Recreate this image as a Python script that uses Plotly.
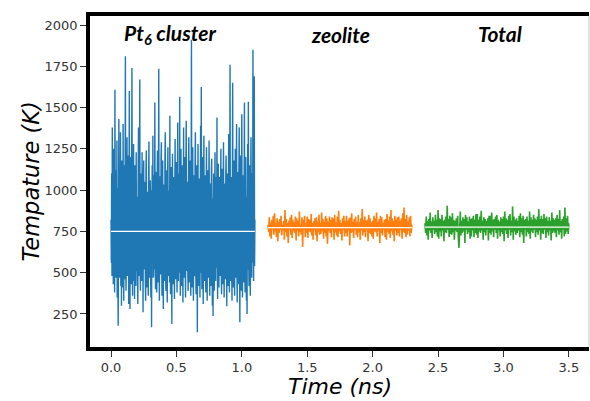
import numpy as np
import plotly.graph_objects as go

# ---- data (temperature in K) ----
pt6_start, pt6_end = 0.0, 1.1
zeo_start, zeo_end = 1.2, 2.3
tot_start, tot_end = 2.4, 3.5

pt6_temp = [
    820, 560, 1100, 480, 1380, 620, 950, 430, 1250, 520, 1040, 380, 1608, 600, 900, 470, 1120, 540, 1300, 350,
    1010, 500, 178, 880, 1430, 610, 470, 1040, 560, 1350, 420, 930, 300, 1180, 640, 980, 410, 1400, 520, 330,
    1150, 590, 460, 1020, 1810, 540, 390, 1090, 660, 1320, 480, 960, 540, 1210, 310, 870, 1600, 500, 280, 1060,
    1200, 560, 430, 990, 1740, 620, 360, 1010, 500, 1280, 450, 920, 340, 1150, 600, 1060, 420, 1230, 510, 880,
    960, 470, 310, 1080, 1380, 580, 480, 940, 1670, 530, 390, 1100, 610, 1020, 450, 1230, 500, 900, 260, 1050,
    1180, 560, 520, 990, 1050, 430, 330, 1120, 1240, 600, 410, 970, 990, 480, 360, 1060, 1295, 540, 470, 930,
    1060, 500, 350, 1000, 170, 880, 1150, 590, 1330, 470, 480, 1090, 1020, 520, 1530, 610, 400, 980, 1110, 450,
    380, 1020, 1240, 540, 440, 960, 1735, 600, 330, 1080, 1080, 490, 500, 1190, 1290, 560, 360, 940, 1180, 510,
    280, 1030, 1030, 570, 450, 1200, 1350, 480, 390, 990, 1120, 620, 320, 1060, 1260, 530, 480, 910, 1000, 440,
    1450, 560, 370, 1010, 1140, 600, 190, 880, 1220, 510, 430, 1070, 1080, 580, 340, 960, 1310, 490, 460, 1040,
    1170, 550, 380, 990, 1410, 620, 450, 1100, 1090, 500, 1565, 580, 360, 1010, 1250, 470, 420, 1150, 1130, 540,
    320, 980, 1380, 590, 470, 1060, 1200, 520, 350, 1120, 1420, 610, 510, 940, 1050, 480, 390, 1170, 1320, 560,
    440, 1030, 1180, 600, 360, 990, 1910, 520, 410, 1100, 1260, 580, 330, 960, 1090, 490, 480, 1140, 1350, 550,
    370, 1010, 1150, 600, 140, 900, 1280, 530, 420, 1070, 1030, 590, 350, 980, 1390, 500, 1625, 620, 400, 1050,
    1200, 560, 310, 990, 1330, 610, 450, 1090, 1070, 520, 380, 1030, 1260, 580, 330, 960, 1120, 500, 470, 1040,
    1300, 570, 360, 1000, 1040, 600, 420, 1130, 1190, 510, 300, 950, 237, 880, 1100, 560, 390, 1010, 1230, 600,
    450, 1050, 1080, 530, 1440, 590, 340, 970, 1160, 500, 410, 1080, 1020, 620, 480, 1000, 1250, 550, 370, 1060,
    1130, 580, 430, 990, 1290, 600, 350, 1040, 990, 520, 460, 1110, 1210, 570, 297, 920, 1100, 530, 420, 1020,
    1340, 560, 380, 1000, 1760, 610, 450, 1080, 1070, 500, 330, 990, 1650, 580, 410, 1050, 1180, 540, 360, 1010,
    1250, 590, 470, 1030, 1400, 520, 320, 970, 1110, 600, 430, 1120, 1380, 560, 200, 940, 1210, 510, 390, 1060,
    1460, 570, 350, 1010, 1090, 620, 440, 990, 1530, 540, 380, 1070, 1200, 590, 330, 960, 250, 880, 1280, 520,
    1535, 600, 420, 1040, 1150, 550, 360, 1000, 1320, 580, 470, 1100, 1100, 560, 1850, 620, 450, 1010, 1690, 540,
    820,
]

zeo_temp = [
    790, 745, 835, 720, 805, 705, 820, 760, 845, 730, 860, 750, 800, 715, 830, 690, 810, 740, 825, 760,
    845, 725, 790, 755, 815, 700, 880, 745, 825, 720, 800, 680, 815, 760, 835, 730, 850, 710, 820, 750,
    805, 740, 840, 695, 830, 755, 815, 720, 870, 745, 790, 730, 835, 655, 820, 760, 845, 715, 800, 740,
    840, 710, 825, 750, 820, 745, 855, 725, 800, 700, 815, 760, 830, 725, 835, 690, 810, 745, 850, 730,
    800, 735, 865, 750, 825, 705, 810, 740, 845, 720, 830, 675, 810, 755, 840, 740, 820, 715, 835, 760,
    830, 700, 850, 745, 805, 725, 840, 715, 875, 750, 820, 735, 800, 695, 830, 760, 845, 720, 815, 740,
    845, 720, 815, 755, 830, 665, 835, 740, 860, 745, 810, 710, 825, 760, 840, 730, 805, 715, 850, 745,
    805, 700, 830, 755, 885, 725, 820, 745, 840, 715, 815, 760, 820, 690, 850, 740, 830, 735, 805, 720,
    815, 705, 845, 750, 830, 745, 865, 720, 810, 755, 825, 680, 845, 740, 835, 725, 800, 760, 820, 715,
    825, 700, 855, 745, 815, 735, 840, 710, 880, 750, 830, 730, 815, 690, 845, 755, 820, 725, 835, 740,
    840, 720, 815, 760, 830, 705, 860, 745, 895, 740, 825, 715, 850, 730, 810, 755, 835, 720, 845, 740,
    790,
]

tot_temp = [
    800, 740, 840, 725, 815, 700, 825, 755, 865, 740, 810, 710, 835, 760, 815, 735, 850, 745, 820, 720,
    880, 705, 830, 750, 825, 720, 850, 755, 815, 690, 820, 745, 840, 740, 905, 760, 825, 715, 845, 735,
    835, 730, 860, 745, 820, 700, 815, 755, 830, 745, 845, 715, 650, 760, 870, 725, 815, 740, 835, 750,
    825, 680, 850, 760, 835, 735, 810, 745, 840, 705, 825, 720, 830, 755, 845, 715, 820, 740, 855, 730,
    855, 710, 820, 750, 840, 740, 875, 755, 815, 700, 835, 745, 825, 725, 815, 760, 830, 695, 845, 740,
    845, 730, 865, 750, 820, 715, 825, 760, 840, 740, 850, 705, 820, 755, 810, 720, 835, 745, 825, 735,
    840, 690, 870, 755, 830, 735, 820, 710, 845, 760, 855, 725, 815, 745, 900, 700, 840, 750, 820, 730,
    830, 740, 815, 755, 845, 715, 860, 745, 830, 730, 845, 680, 820, 760, 825, 720, 840, 745, 815, 735,
    870, 705, 835, 750, 820, 740, 850, 760, 830, 715, 820, 745, 840, 730, 885, 755, 825, 700, 845, 740,
    825, 735, 855, 760, 830, 710, 840, 745, 815, 725, 835, 755, 815, 695, 865, 740, 830, 750, 820, 740,
    830, 715, 850, 755, 825, 730, 880, 745, 815, 705, 825, 760, 840, 720, 895, 735, 830, 750, 845, 735,
    800,
]

pt6_mean = 750
zeo_mean = 773
tot_mean = 776

labels = ["Pt<sub>6</sub> cluster", "zeolite", "Total"]
label_x = [0.451, 1.755, 2.974]
label_y = [1945, 1945, 1950]

x_ticks = [0.0, 0.5, 1.0, 1.5, 2.0, 2.5, 3.0, 3.5]
y_ticks = [250, 500, 750, 1000, 1250, 1500, 1750, 2000]

colors = ["#1f77b4", "#ff7f0e", "#2ca02c"]

pt6_time = np.linspace(pt6_start, pt6_end, len(pt6_temp))
zeo_time = np.linspace(zeo_start, zeo_end, len(zeo_temp))
tot_time = np.linspace(tot_start, tot_end, len(tot_temp))

fig = go.Figure()
series = [
    (pt6_time, pt6_temp, pt6_mean, (pt6_start, pt6_end), 1.4),
    (zeo_time, zeo_temp, zeo_mean, (zeo_start, zeo_end), 1.6),
    (tot_time, tot_temp, tot_mean, (tot_start, tot_end), 1.6),
]
for (t, v, m, (a, b), w), c in zip(series, colors):
    fig.add_trace(go.Scatter(x=t, y=v, mode="lines",
                             line=dict(color=c, width=w, simplify=False),
                             hoverinfo="skip", showlegend=False))
for (t, v, m, (a, b), w), c in zip(series, colors):
    fig.add_trace(go.Scatter(x=[a, b], y=[m, m], mode="lines",
                             line=dict(color="white", width=1.3),
                             hoverinfo="skip", showlegend=False))

for txt, xx, yy in zip(labels, label_x, label_y):
    fig.add_annotation(x=xx, y=yy, text="<b><i>" + txt + "</i></b>",
                       showarrow=False, xanchor="center", yanchor="middle",
                       font=dict(family="Lato", size=21, color="black"))

fig.add_annotation(xref="paper", yref="paper", x=0.502, y=0, yshift=-39,
                   text="<i>Time (ns)</i>", showarrow=False,
                   xanchor="center", yanchor="middle",
                   font=dict(family="DejaVu Sans", size=22, color="black"))
fig.add_annotation(xref="paper", yref="paper", x=-0.12, y=0.5,
                   text="<i>Tempature (K)</i>", showarrow=False, textangle=-90,
                   xanchor="center", yanchor="middle",
                   font=dict(family="DejaVu Sans", size=22.5, color="black"))

fig.add_shape(type="line", xref="paper", yref="paper", x0=1, x1=1, y0=0, y1=1,
              line=dict(color="#c8c8c8", width=1))

fig.update_layout(
    width=590, height=401,
    margin=dict(l=90, r=1, t=16, b=54),
    paper_bgcolor="white", plot_bgcolor="white",
    xaxis=dict(range=[-0.1606, 3.654], tickvals=x_ticks,
               ticktext=[f"{v:.1f}" for v in x_ticks],
               showgrid=False, zeroline=False,
               showline=True, linecolor="black", linewidth=3.5, mirror=True,
               ticks="outside", ticklen=6, tickwidth=1, tickcolor="#333",
               tickfont=dict(family="DejaVu Sans", size=13, color="#333")),
    yaxis=dict(range=[50, 2054.5], tickvals=y_ticks,
               showgrid=False, zeroline=False,
               showline=True, linecolor="black", linewidth=3.5,
               ticks="outside", ticklen=6, tickwidth=1, tickcolor="#333",
               tickfont=dict(family="DejaVu Sans", size=13, color="#333")),
)

fig.write_html("out.html")
